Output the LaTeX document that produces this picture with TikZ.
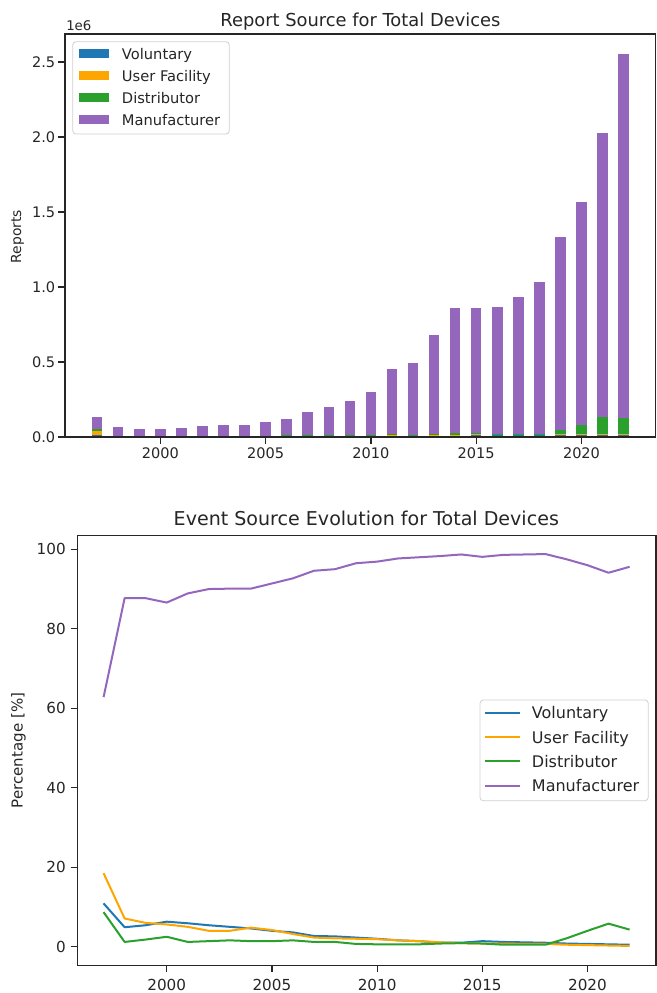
\documentclass[tikz,border=0pt]{standalone}
\usepackage{fontspec}
\setmainfont{DejaVu Sans}
\definecolor{cV}{HTML}{1F77B4}
\definecolor{cU}{HTML}{FFA500}
\definecolor{cD}{HTML}{2CA02C}
\definecolor{cM}{HTML}{9467BD}
\definecolor{axc}{HTML}{262626}
\definecolor{legc}{HTML}{D0D0D0}
\begin{document}
\begin{tikzpicture}[x=0.75pt,y=-0.75pt,
  spine/.style={draw=axc,line width=0.9pt},
  tickline/.style={draw=axc,line width=0.9pt},
  tlA/.style={inner sep=0pt,text=axc,font=\fontsize{10.9}{13}\selectfont},
  tlB/.style={inner sep=0pt,text=axc,font=\fontsize{11.4}{13.5}\selectfont},
  legA/.style={inner sep=0pt,text=axc,anchor=base west,font=\fontsize{11}{13}\selectfont},
  legB/.style={inner sep=0pt,text=axc,anchor=base west,font=\fontsize{12}{14}\selectfont},
  legframe/.style={draw=legc,fill=white,line width=0.6pt,rounded corners=2.5pt},
  series/.style={line width=1.5pt,line join=round}]
\useasboundingbox[fill=white] (0,0) rectangle (657,993);

% ================= TOP PANEL =================
\node[inner sep=0pt,anchor=base,text=axc,font=\fontsize{13.4}{16}\selectfont] (t1) at (360.4,26.5) {Report Source for Total Devices};
\node[inner sep=0pt,anchor=base west,text=axc,font=\fontsize{10}{12}\selectfont] (e6) at (66,30.5) {1e6};
\node[inner sep=0pt,rotate=90,text=axc,font=\fontsize{10.4}{12}\selectfont] (ylA) at (17.5,236.5) {Reports};

\begin{scope}[shift={(160.3,437)},xscale=21.06,yscale=-150]
\foreach \o/\T/\pv/\pu/\pd in {
 -3/0.135/10.9/18.5/8.7, -2/0.065/4.9/7.1/1.2, -1/0.051/5.4/6.0/1.8, 0/0.051/6.3/5.6/2.5,
 1/0.058/5.9/5.0/1.2, 2/0.073/5.4/4.0/1.4, 3/0.080/5.0/4.0/1.6, 4/0.080/4.6/4.8/1.4,
 5/0.100/4.0/4.2/1.4, 6/0.122/3.6/3.2/1.6, 7/0.169/2.7/2.3/1.2, 8/0.198/2.6/2.1/1.2,
 9/0.240/2.3/2.0/0.7, 10/0.302/2.0/1.9/0.6, 11/0.451/1.6/1.6/0.6, 12/0.491/1.4/1.4/0.6,
 13/0.678/1.0/1.1/0.8, 14/0.860/1.0/0.9/0.9, 15/0.860/1.4/0.8/0.8, 16/0.867/1.2/0.8/0.5,
 17/0.931/1.1/0.7/0.5, 18/1.033/1.0/0.7/0.5, 19/1.333/0.8/0.5/2.1, 20/1.566/0.7/0.4/4.0,
 21/2.028/0.6/0.3/5.7, 22/2.554/0.5/0.2/4.3}{
  \pgfmathsetmacro\a{\T*\pv/100}
  \pgfmathsetmacro\b{\a+\T*\pu/100}
  \pgfmathsetmacro\c{\b+\T*\pd/100}
  \fill[cV] ({\o-0.25},0) rectangle ({\o+0.25},\a);
  \fill[cU] ({\o-0.25},\a) rectangle ({\o+0.25},\b);
  \fill[cD] ({\o-0.25},\b) rectangle ({\o+0.25},\c);
  \fill[cM] ({\o-0.25},\c) rectangle ({\o+0.25},\T);
}
\end{scope}

\draw[spine] (65,34) rectangle (655.7,437);
\foreach \v/\l in {0/0.0,0.5/0.5,1/1.0,1.5/1.5,2/2.0,2.5/2.5}{
  \draw[tickline] (58.3,{437-150*\v}) -- (65,{437-150*\v});
  \node[tlA,anchor=east] at (55.5,{437-150*\v}) {\l};
}
\foreach \o/\l in {0/2000,5/2005,10/2010,15/2015,20/2020}{
  \draw[tickline] ({160.3+21.06*\o},437) -- ({160.3+21.06*\o},443.5);
  \node[tlA] at ({160.3+21.06*\o},453.7) {\l};
}

% legend top
\draw[legframe] (72.7,41.7) rectangle (229.3,134);
\foreach \i/\c/\l in {0/cV/Voluntary,1/cU/User Facility,2/cD/Distributor,3/cM/Manufacturer}{
  \fill[\c] (79,{53.6+22*\i-4.7}) rectangle (109,{53.6+22*\i+4.7});
  \node[legA] at (121.7,{53.6+22*\i+5.4}) {\l};
}

% ================= BOTTOM PANEL =================
\node[inner sep=0pt,anchor=base,text=axc,font=\fontsize{14.3}{17}\selectfont] (t2) at (366.3,525.7) {Event Source Evolution for Total Devices};
\node[inner sep=0pt,rotate=90,text=axc,font=\fontsize{11.3}{13}\selectfont] (ylB) at (18.5,750.5) {Percentage [\%]};

\begin{scope}[shift={(166.7,946.7)},xscale=21.04,yscale=-3.974]
\draw[series,cV] plot coordinates {(-3,10.9) (-2,4.9) (-1,5.4) (0,6.3) (1,5.9) (2,5.4) (3,5.0) (4,4.6) (5,4.0) (6,3.6) (7,2.7) (8,2.6) (9,2.3) (10,2.0) (11,1.6) (12,1.4) (13,1.0) (14,1.0) (15,1.4) (16,1.2) (17,1.1) (18,1.0) (19,0.8) (20,0.7) (21,0.6) (22,0.5)};
\draw[series,cU] plot coordinates {(-3,18.5) (-2,7.1) (-1,6.0) (0,5.6) (1,5.0) (2,4.0) (3,4.0) (4,4.8) (5,4.2) (6,3.2) (7,2.3) (8,2.1) (9,2.0) (10,1.9) (11,1.6) (12,1.4) (13,1.1) (14,0.9) (15,0.8) (16,0.8) (17,0.7) (18,0.7) (19,0.5) (20,0.4) (21,0.3) (22,0.2)};
\draw[series,cD] plot coordinates {(-3,8.7) (-2,1.2) (-1,1.8) (0,2.5) (1,1.2) (2,1.4) (3,1.6) (4,1.4) (5,1.4) (6,1.6) (7,1.2) (8,1.2) (9,0.7) (10,0.6) (11,0.6) (12,0.6) (13,0.8) (14,0.9) (15,0.8) (16,0.5) (17,0.5) (18,0.5) (19,2.1) (20,4.0) (21,5.8) (22,4.3)};
\draw[series,cM] plot coordinates {(-3,62.8) (-2,87.7) (-1,87.7) (0,86.6) (1,88.9) (2,90.0) (3,90.1) (4,90.1) (5,91.4) (6,92.7) (7,94.6) (8,95.0) (9,96.5) (10,96.9) (11,97.7) (12,98.0) (13,98.3) (14,98.7) (15,98.1) (16,98.6) (17,98.7) (18,98.8) (19,97.5) (20,96.0) (21,94.1) (22,95.6)};
\end{scope}

\draw[spine] (77.3,535.7) rectangle (656,965.3);
\foreach \v in {0,20,40,60,80,100}{
  \draw[tickline] (70.5,{946.7-3.974*\v}) -- (77.3,{946.7-3.974*\v});
  \node[tlB,anchor=east] at (66,{946.7-3.974*\v}) {\v};
}
\foreach \o/\l in {0/2000,5/2005,10/2010,15/2015,20/2020}{
  \draw[tickline] ({166.7+21.04*\o},965.3) -- ({166.7+21.04*\o},972);
  \node[tlB] at ({166.7+21.04*\o},985) {\l};
}

% legend bottom
\draw[legframe] (480,700) rectangle (648.3,800.7);
\foreach \i/\c/\l in {0/cV/Voluntary,1/cU/User Facility,2/cD/Distributor,3/cM/Manufacturer}{
  \draw[series,\c] (485,{712.7+24.35*\i}) -- (520,{712.7+24.35*\i});
  \node[legB] at (531.7,{712.7+24.35*\i+6}) {\l};
}
\end{tikzpicture}
\end{document}
